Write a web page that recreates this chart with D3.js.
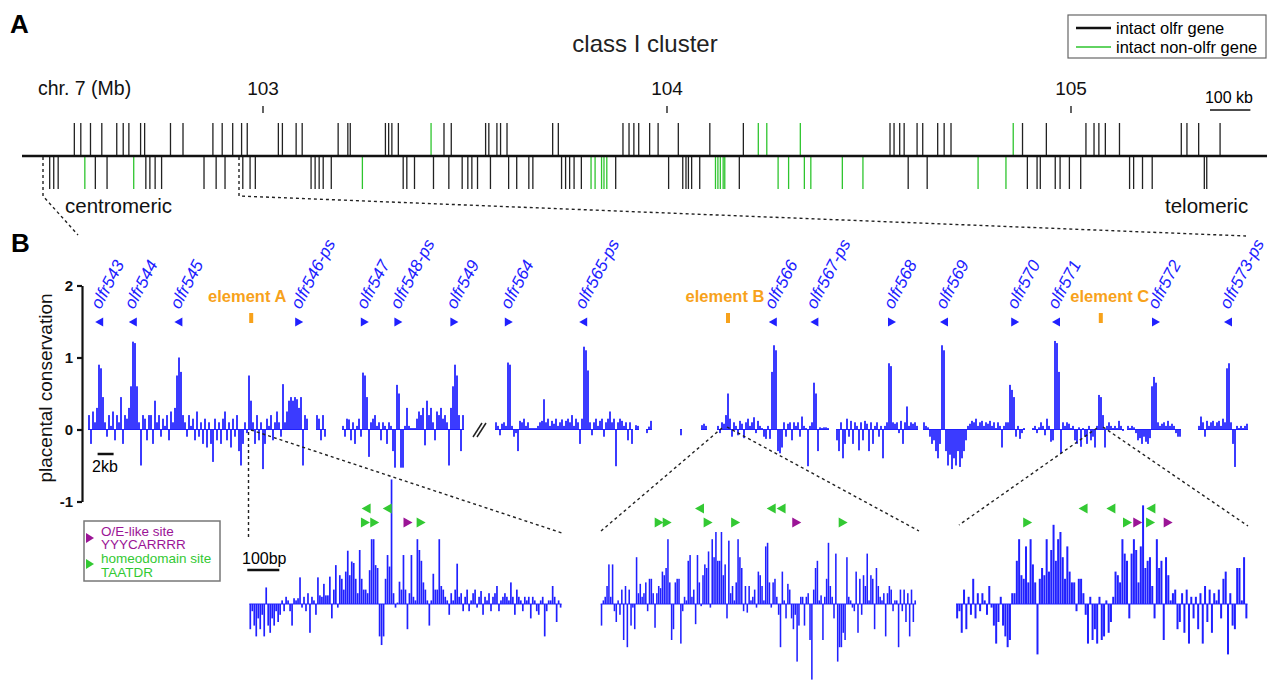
<!DOCTYPE html>
<html><head><meta charset="utf-8">
<script src="https://cdn.jsdelivr.net/npm/d3@7"></script>
<style>
body{margin:0;background:#fff;}
svg{display:block;font-family:"Liberation Sans",Arial,Helvetica,sans-serif;}
</style></head><body>
<svg id="c" width="1275" height="681"></svg>
<script>
// ---------------- DATA ----------------
// Panel A: chromosome 7 positions (Mb)
const mbTicks = [103, 104, 105];
const olfrAbove = [102.533,102.549,102.573,102.601,102.638,102.654,102.668,102.697,102.707,102.771,102.802,102.876,102.899,102.925,102.947,102.961,103.038,103.048,103.082,103.097,103.186,103.210,103.216,103.303,103.311,103.319,103.335,103.448,103.466,103.551,103.559,103.579,103.588,103.604,103.717,103.731,103.891,103.906,103.918,103.930,103.957,103.978,104.028,104.106,104.189,104.552,104.562,104.576,104.587,104.619,104.633,104.670,104.686,104.703,104.880,104.939,105.037,105.057,105.069,105.085,105.120,105.273,105.287,105.316,105.369];
const nonOlfrAbove = [103.416,104.226,104.247,104.330,104.857];
const olfrBelow = [102.472,102.482,102.493,102.585,102.614,102.710,102.720,102.733,102.749,102.854,102.884,102.906,102.950,102.968,102.981,103.119,103.129,103.139,103.149,103.169,103.347,103.356,103.375,103.422,103.460,103.493,103.507,103.517,103.531,103.563,103.608,103.628,103.658,103.668,103.739,103.749,103.759,103.770,103.788,103.873,104.004,104.039,104.047,104.053,104.061,104.081,104.179,104.597,104.644,104.892,104.916,104.924,104.961,104.973,104.996,105.024,105.145,105.155,105.177,105.201,105.330,105.336];
const nonOlfrBelow = [102.559,102.680,103.246,103.812,103.822,103.838,103.844,103.851,104.120,104.126,104.132,104.139,104.143,104.275,104.301,104.340,104.356,104.434,104.485,104.770,104.839];

// Panel B: genes (plot coordinate in kb) and strand
const geneNamesB = ["olfr543","olfr544","olfr545","olfr546-ps","olfr547","olfr548-ps","olfr549","olfr564","olfr565-ps","olfr566","olfr567-ps","olfr568","olfr569","olfr570","olfr571","olfr572","olfr573-ps"];
const genePosB = [1.4,5.6,11.3,26.4,34.6,38.8,45.8,52.6,61.9,85.6,90.8,100.5,107.0,115.9,121.0,133.5,142.5];
const geneStrandB = [-1,-1,-1,1,1,1,1,1,-1,-1,-1,1,-1,1,-1,1,-1];
const elementNames = ["element A","element B","element C"];
const elementPos = [20.4,80.0,126.6];
const yTicksB = [-1,0,1,2];

// Conservation track segments (start kb, values every 0.25 kb)
const consStep = 0.25;
const consSeg1 = [0.2,-0.2,0.25,0.1,0.3,0.9,0.85,0.45,0.1,-0.1,0.2,0.05,0.25,-0.15,0.2,0.1,0.45,-0.2,0.2,0.15,0.3,0.6,1.22,1.2,0.6,0.1,-0.5,0.2,0.15,-0.15,0.2,0.2,-0.2,0.4,0.1,0.2,-0.1,0.15,0.05,0.2,-0.15,0.25,0.1,0.3,0.75,1.0,0.8,0.2,0.1,-0.1,0.2,0.05,0.15,-0.15,0.25,-0.1,0.1,-0.2,0.15,-0.25,0.1,-0.2,-0.45,0.15,-0.15,0.1,-0.2,0.15,0.25,-0.15,0.1,-0.25,0.15,-0.1,0.2,-0.3,-0.5,-0.2,0.1,-0.05,0.75,0.4,0.1,-0.2,0.2,-0.15,0.1,-0.55,-0.2,0.15,0.05,0.2,-0.15,0.1,0.25,0.1,-0.1,0.63,0.1,0.25,0.4,0.45,0.4,0.45,0.42,0.3,0.45,-0.5,0.2,0.15];
const consBitA = [0.2,0.15,-0.15,0.2,-0.1];
const consSeg2 = [0.05,-0.1,0.15,0.14,-0.15,0.1,-0.2,0.05,0.15,-0.1,0.79,0.75,0.45,-0.38,0.1,0.15,0.2,0.05,0.1,-0.15,0.1,0.05,-0.2,0.1,0.05,-0.3,-0.53,0.62,0.5,-0.53,-0.53,0.05,0.3,0.05,0.02,0.02,0.02,0.15,0.25,0.2,0.3,-0.22,0.4,0.2,0.3,0.1,-0.15,0.25,0.2,0.3,0.15,0.2,0.1,-0.5,0.3,0.6,0.9,0.75,0.2,-0.3,0.2];
const consSeg3 = [0.1,0.05,-0.08,0.08,0.1,0.05,0.93,0.9,0.05,-0.1,-0.05,-0.3,0.12,0.1,0.15,0.05,0.1,0.02,0.02,0.02,0.02,0.05,0.1,0.12,0.42,0.1,0.15,0.05,0.12,0.08,0.15,0.05,0.1,0.14,0.05,0.12,0.15,0.1,0.2,0.05,0.15,0.1,-0.2,0.15,1.15,1.1,0.82,0.1,-0.08,0.1,0.15,0.05,0.12,0.15,-0.1,0.1,0.15,0.25,0.1,0.15,-0.51,0.1,0.15,0.12,0.05,0.1,-0.15,0.1,-0.2];
const consBitB = [0.06,0.05];
const consBitC = [-0.05,0.04,0.12];
const consBitD = [-0.08];
const consBitE = [0.06,0.08,0.05];
const consSeg4 = [0.05,-0.05,0.1,0.08,0.2,0.5,0.15,-0.1,0.1,0.05,-0.08,0.12,0.08,-0.12,0.1,0.15,0.05,0.1,0.17,-0.05,0.12,0.05,0.02,-0.1,-0.13,0.05,-0.13,0.8,1.17,1.1,-0.3,-0.33,-0.25,0.1,-0.1,0.08,0.1,-0.15,0.1,0.05,0.1,-0.1,0.18,0.05,0.02,-0.51,0.05,0.1,0.65,0.5,-0.3,0.03,0.02,0.03,0.03,0.02];
const consSeg5 = [-0.15,-0.3,0.1,-0.4,-0.2,0.15,-0.1,0.12,-0.2,0.1,0.05,-0.29,0.1,-0.15,0.12,0.08,-0.3,0.1,-0.2,0.05,0.1,-0.1,0.05,-0.4,0.05,0.1,0.92,0.88,0.1,0.08,0.1,-0.05,0.12,-0.2,0.1,0.32,0.05,0.1,0.08,0.1,0.05];
const consSeg6 = [0.1,0.05,0.03,-0.1,-0.2,-0.15,-0.3,-0.4,-0.2,1.17,1.1,-0.3,-0.5,-0.35,-0.55,-0.4,-0.5,-0.3,-0.52,-0.4,-0.3,-0.15,0.05,0.08,0.12,0.1,0.15,0.05,0.1,0.12,0.05,0.1,0.08,0.12,0.05,0.1,0.02,0.1,0.05,-0.25,0.05,0.1,0.1,0.62,0.55,0.45,-0.1,0.05,-0.13,-0.05,0.02];
const consSeg7 = [0.02,0.05,-0.05,0.03,0.1,0.05,-0.08,0.15,0.05,-0.17,-0.15,1.23,1.2,0.8,-0.33,0.1,0.05,0.1,0.08,0.02,0.05,-0.15,-0.2,0.03,-0.24,0.02,-0.1,-0.2,0.05,-0.15,-0.1,-0.25,0.05,0.48,0.45,0.2,-0.25,0.05,0.1,0.05,0.02,0.05,0.02,0.12,0.05,-0.02];
const consSeg8 = [0.05,0.02,0.05,0.03,-0.05,-0.15,-0.12,-0.2,-0.1,-0.17,-0.2,-0.12,0.6,0.73,0.65,0.1,0.05,0.08,0.1,0.05,0.12,0.05,0.08,0.05,-0.05,-0.1,-0.1];
const consSeg9 = [0.05,0.18,0.1,-0.1,0.12,0.05,0.1,0.12,0.05,0.1,0.12,0.05,0.15,0.1,0.85,0.92,0.1,-0.2,-0.52,0.05,0.02,0.05,0.02,0.05,0.08];
const consStarts = [0.125,28.625,31.875,51.0,68.5,69.875,74.125,76.75,78.75,93.625,104.5,118.125,130.0,138.875];
const consSegs = [consSeg1,consBitA,consSeg2,consSeg3,consBitB,consBitC,consBitD,consBitE,consSeg4,consSeg5,consSeg6,consSeg7,consSeg8,consSeg9];

// Insets (bp scale), values evenly spaced over each span
const insetSpanBp = [976, 986, 911];
const inset1 = [-0.35,-0.1,-0.3,-0.45,-0.2,-0.35,-0.15,-0.45,0.23,-0.3,-0.4,-0.2,-0.3,-0.1,-0.25,-0.15,0.05,-0.1,0.1,0.05,-0.1,-0.3,0.08,0.05,0.08,0.37,-0.05,0.1,-0.1,0.15,-0.4,0.1,0.05,-0.15,0.37,0.12,0.1,0.28,0.12,0.12,0.38,-0.2,0.2,0.54,-0.05,0.4,0.35,0.2,0.45,0.74,0.4,0.59,0.57,0.35,0.15,0.75,0.35,0.2,0.2,0.15,0.47,0.9,0.9,0.54,0.5,-0.45,-0.57,-0.45,0.35,0.68,0.52,1.73,0.15,-0.05,0.02,0.31,0.2,0.68,0.2,-0.35,0.15,0.68,0.1,0.05,0.9,0.75,0.6,0.3,0.2,0.05,-0.3,0.05,0.42,0.2,0.2,0.9,0.25,0.2,0.1,0.05,-0.15,0.15,0.05,0.2,0.56,0.1,0.15,-0.1,0.1,0.2,-0.1,0.05,0.15,0.2,-0.05,0.1,0.18,-0.15,0.1,0.05,0.15,-0.1,0.1,0.15,0.25,-0.1,0.05,0.1,0.15,0.1,0.05,0.3,0.1,-0.15,0.2,0.1,0.05,-0.1,0.1,0.05,0.1,-0.2,0.1,0.05,-0.1,-0.15,0.05,0.1,-0.45,-0.1,0.05,0.05,0.25,0.1,-0.25,0.05,-0.05];
const inset2 = [-0.3,0.05,0.1,0.25,0.55,0.1,0.55,-0.1,-0.25,0.05,-0.15,0.2,-0.5,0.25,-0.6,0.2,-0.3,-0.05,-0.35,0.65,0.15,0.28,0.1,0.15,0.3,-0.1,0.35,0.35,0.15,-0.33,0.15,0.25,0.22,0.45,0.4,0.5,0.9,0.3,-0.5,-0.35,0.3,0.35,0.35,-0.55,-0.1,0.1,0.05,0.6,0.68,0.1,0.2,-0.28,0.68,0.3,-0.03,0.4,0.55,0.5,0.73,-0.05,0.9,0.65,1.0,0.6,0.6,1.0,0.4,0.55,-0.2,0.88,0.15,0.25,0.05,0.3,0.9,0.65,0.5,-0.1,0.25,-0.12,0.25,0.05,0.1,0.2,-0.05,0.45,0.4,0.25,0.05,0.8,0.85,0.3,-0.05,0.3,0.35,0.1,-0.15,-0.6,0.45,0.05,-0.2,0.28,0.2,-0.2,-0.35,-0.15,-0.8,-0.3,0.1,0.1,-0.3,0.1,0.15,-0.5,-1.05,0.2,0.5,0.6,0.05,0.12,-0.5,0.1,0.35,0.85,0.25,0.1,-0.2,0.7,-0.8,-0.6,-0.6,-0.4,-0.5,0.65,0.1,0.05,-0.05,-0.1,0.45,-0.4,0.35,-0.15,0.4,0.25,0.7,0.05,0.4,0.35,-0.35,0.5,0.25,0.1,0.05,0.15,-0.45,0.15,0.25,0.2,-0.1,0.05,0.05,-0.6,0.2,-0.1,0.2,-0.25,0.15,-0.45,0.2,-0.25,0.05];
const inset3 = [-0.2,-0.1,-0.4,0.2,-0.35,0.1,-0.15,0.35,-0.2,0.15,-0.1,0.15,0.05,-0.15,0.25,-0.05,-0.3,-0.55,-0.25,0.1,-0.3,-0.45,-0.6,-0.5,0.15,0.15,0.6,0.9,0.4,0.35,0.8,0.3,0.9,0.55,0.3,-0.7,0.35,0.5,0.4,0.9,0.45,0.75,1.1,0.6,0.9,1.0,0.65,0.35,0.8,0.45,0.3,0.3,-0.1,0.35,0.35,0.15,-0.15,-0.55,0.1,-0.5,-0.35,-0.55,0.1,-0.5,-0.45,0.05,-0.4,-0.25,0.1,0.45,0.4,0.3,0.9,0.7,0.6,-0.2,0.7,0.9,0.75,0.3,0.8,1.37,0.5,0.6,0.65,0.25,-0.2,0.9,0.5,0.6,-0.5,0.65,0.4,0.05,0.15,0.2,-0.35,-0.25,0.15,-0.4,0.2,-0.55,0.1,-0.2,0.1,-0.35,0.15,-0.55,0.25,-0.25,0.2,-0.4,0.15,0.05,0.2,-0.2,0.35,0.45,-0.7,0.15,-0.3,-0.35,0.5,0.5,0.05,0.65,-0.2];
const insetValues = [inset1, inset2, inset3];
// motif sites (bp within inset)
const homeoRev = [[365,431],[309,533,564],[397,484,609]];
const homeoFwd = [[363,392,537],[183,208,336,422,758],[224,536,608]];
const oeSites  = [[496],[613],[568,663]];

// ---------------- LAYOUT / STYLE ----------------
const BLUE = "#2020ff", ORANGE = "#f7a21b", GREEN = "#33c933", PURPLE = "#9b1496", GGREEN = "#2ec52e";
const svg = d3.select("#c");

function tri(g, x, y, dir, w, h, color){
  const d = dir > 0
    ? `M${x-w/2},${y-h/2}L${x+w/2},${y}L${x-w/2},${y+h/2}Z`
    : `M${x+w/2},${y-h/2}L${x-w/2},${y}L${x+w/2},${y+h/2}Z`;
  g.append("path").attr("d", d).attr("fill", color);
}

// ===== Panel A =====
const gA = svg.append("g");
const xA = d3.scaleLinear().domain([103,105]).range([263,1071]);
gA.append("text").attr("x",10).attr("y",33).attr("font-size",26).attr("font-weight","bold").text("A");
gA.append("text").attr("x",645).attr("y",52).attr("text-anchor","middle").attr("font-size",24).attr("fill","#222").text("class I cluster");
gA.append("text").attr("x",38).attr("y",95).attr("font-size",19.5).attr("fill","#111").text("chr. 7 (Mb)");
mbTicks.forEach(m=>{
  gA.append("text").attr("x",xA(m)).attr("y",95).attr("text-anchor","middle").attr("font-size",19).attr("fill","#111").text(m);
  gA.append("line").attr("x1",xA(m)).attr("x2",xA(m)).attr("y1",106).attr("y2",113).attr("stroke","#111").attr("stroke-width",1.3);
});
// 100 kb scale bar
gA.append("text").attr("x",1229).attr("y",103).attr("text-anchor","middle").attr("font-size",16).text("100 kb");
gA.append("line").attr("x1",xA(105.344)).attr("x2",xA(105.444)).attr("y1",110).attr("y2",110).attr("stroke","#111").attr("stroke-width",1.5);
// gene ticks
function ticks(arr, color, y1, y2){
  gA.selectAll(null).data(arr).enter().append("line")
    .attr("x1",d=>xA(d)).attr("x2",d=>xA(d)).attr("y1",y1).attr("y2",y2)
    .attr("stroke",color).attr("stroke-width",1.3);
}
ticks(olfrAbove,"#222",123,156);
ticks(nonOlfrAbove,GGREEN,123,156);
ticks(olfrBelow,"#222",156,189);
ticks(nonOlfrBelow,GGREEN,156,189);
gA.append("line").attr("x1",22).attr("x2",1267).attr("y1",156).attr("y2",156).attr("stroke","#111").attr("stroke-width",2.5);
gA.append("text").attr("x",65).attr("y",213).attr("font-size",20.5).attr("fill","#111").text("centromeric");
gA.append("text").attr("x",1165).attr("y",213).attr("font-size",20.5).attr("fill","#111").text("telomeric");
// legend A
gA.append("rect").attr("x",1068).attr("y",15).attr("width",198).attr("height",43).attr("fill","none").attr("stroke","#666").attr("stroke-width",1.2);
gA.append("line").attr("x1",1076).attr("x2",1111).attr("y1",28).attr("y2",28).attr("stroke","#111").attr("stroke-width",2.5);
gA.append("line").attr("x1",1076).attr("x2",1111).attr("y1",47).attr("y2",47).attr("stroke",GGREEN).attr("stroke-width",1.5);
gA.append("text").attr("x",1116).attr("y",28).attr("dy","0.35em").attr("font-size",16.5).text("intact olfr gene");
gA.append("text").attr("x",1116).attr("y",47).attr("dy","0.35em").attr("font-size",16.5).text("intact non-olfr gene");

// dotted zoom lines
function dotted(d){ svg.append("path").attr("d",d).attr("fill","none").attr("stroke","#222").attr("stroke-width",1.4).attr("stroke-dasharray","3,3"); }
dotted("M43,157V196L78,235");
dotted("M239,157V196L1246,236");

// ===== Panel B =====
const gB = svg.append("g");
gB.append("text").attr("x",11).attr("y",252).attr("font-size",26).attr("font-weight","bold").text("B");
const xB = d3.scaleLinear().domain([0,146]).range([88,1256]);
const yB = d3.scaleLinear().domain([-1,2]).range([501.5,285.5]);

const axis = d3.axisLeft(yB).tickValues(yTicksB).tickSize(5).tickSizeOuter(0).tickFormat(d=>String(d));
const ga = gB.append("g").attr("transform","translate(82,0)").call(axis);
ga.select(".domain").attr("stroke","#111").attr("stroke-width",2.2);
ga.selectAll(".tick line").attr("stroke","#111").attr("stroke-width",2.2);
ga.selectAll(".tick text").attr("font-size",15).attr("font-weight","bold").attr("fill","#111")
  .attr("font-family",'"Liberation Sans",Arial,sans-serif').attr("x",-9);
gB.append("text").attr("transform","translate(52,388) rotate(-90)").attr("text-anchor","middle").attr("font-size",19).attr("fill","#111").text("placental conservation");

// conservation bars
consSegs.forEach((vals,k)=>{
  const s = consStarts[k];
  const xs = vals.map((v,i)=>xB(s+i*consStep));
  gB.append("line").attr("x1",xs[0]-1).attr("x2",xs[xs.length-1]+1).attr("y1",yB(0)).attr("y2",yB(0)).attr("stroke",BLUE).attr("stroke-width",1);
  gB.selectAll(null).data(vals).enter().append("rect")
    .attr("x",(v,i)=>xs[i]-1).attr("width",2)
    .attr("y",v=>yB(Math.max(v,0))).attr("height",v=>Math.abs(yB(v)-yB(0)))
    .attr("fill",BLUE).attr("opacity",0.88);
});
// break mark
gB.append("line").attr("x1",473).attr("y1",437).attr("x2",482).attr("y2",423).attr("stroke","#222").attr("stroke-width",1.5);
gB.append("line").attr("x1",477).attr("y1",437).attr("x2",486).attr("y2",423).attr("stroke","#222").attr("stroke-width",1.5);
// 2 kb scale
gB.append("line").attr("x1",xB(1.2)).attr("x2",xB(3.2)).attr("y1",454).attr("y2",454).attr("stroke","#111").attr("stroke-width",2.5);
gB.append("text").attr("x",105).attr("y",472).attr("text-anchor","middle").attr("font-size",16).text("2kb");

// gene triangles and labels
geneNamesB.forEach((n,i)=>{
  const x = xB(genePosB[i]);
  tri(gB, x, 322, geneStrandB[i], 8, 9, BLUE);
  gB.append("text").attr("transform",`translate(${x+1},310) rotate(-62)`).attr("font-size",17).attr("font-style","italic").attr("fill",BLUE).text(n);
});
// elements
const elDx = [-4,-3,9];
elementNames.forEach((n,i)=>{
  const x = xB(elementPos[i]);
  gB.append("rect").attr("x",x-2).attr("y",313).attr("width",4).attr("height",10).attr("fill",ORANGE);
  gB.append("text").attr("x",x+elDx[i]).attr("y",302).attr("text-anchor","middle").attr("font-size",16.5).attr("font-weight","bold").attr("fill",ORANGE).text(n);
});

// inset dotted lines
dotted("M248.5,432V537");
dotted("M251,430L562,533");
dotted("M722,428L601,531");
dotted("M727,427L919,531");
dotted("M1097,428L959,525");
dotted("M1103,427L1248,526");

// insets
const insetX0 = [249.3, 600.6, 956];
const pxPerBp = 0.32;
const yI = d3.scaleLinear().domain([-1,2]).range([604+72, 604-144]);
insetValues.forEach((vals,k)=>{
  const xI = d3.scaleLinear().domain([0,insetSpanBp[k]]).range([insetX0[k], insetX0[k]+insetSpanBp[k]*pxPerBp]);
  const bpStep = insetSpanBp[k]/vals.length;
  const w = bpStep*pxPerBp;
  const g = svg.append("g");
  g.append("line").attr("x1",xI(0)).attr("x2",xI(insetSpanBp[k])).attr("y1",yI(0)).attr("y2",yI(0)).attr("stroke",BLUE).attr("stroke-width",1);
  g.selectAll(null).data(vals).enter().append("rect")
    .attr("x",(v,i)=>xI(i*bpStep)+0.15).attr("width",Math.max(w-0.3,1))
    .attr("y",v=>yI(Math.max(v,0))).attr("height",v=>Math.abs(yI(v)-yI(0)))
    .attr("fill",BLUE);
  homeoRev[k].forEach(b=>tri(g, xI(b), 508.5, -1, 9, 10, GREEN));
  homeoFwd[k].forEach(b=>tri(g, xI(b), 522.5, 1, 9, 10, GREEN));
  oeSites[k].forEach(b=>tri(g, xI(b), 522.5, 1, 9, 10, PURPLE));
});
// 100bp scale
svg.append("line").attr("x1",247.3).attr("x2",247.3+100*pxPerBp).attr("y1",570).attr("y2",570).attr("stroke","#111").attr("stroke-width",2.5);
svg.append("text").attr("x",242).attr("y",564).attr("font-size",16).text("100bp");

// motif legend
svg.append("rect").attr("x",84).attr("y",521).attr("width",136).attr("height",60).attr("fill","none").attr("stroke","#777").attr("stroke-width",1.5);
tri(svg, 90, 538, 1, 8, 10, PURPLE);
tri(svg, 90, 564, 1, 8, 10, GREEN);
svg.append("text").attr("x",101).attr("y",535.5).attr("font-size",13.5).attr("fill",PURPLE).text("O/E-like site");
svg.append("text").attr("x",101).attr("y",549).attr("font-size",13.5).attr("fill",PURPLE).text("YYYCARRRR");
svg.append("text").attr("x",101).attr("y",563).attr("font-size",13.5).attr("fill",GREEN).text("homeodomain site");
svg.append("text").attr("x",101).attr("y",576.5).attr("font-size",13.5).attr("fill",GREEN).text("TAATDR");
</script>
</body></html>
